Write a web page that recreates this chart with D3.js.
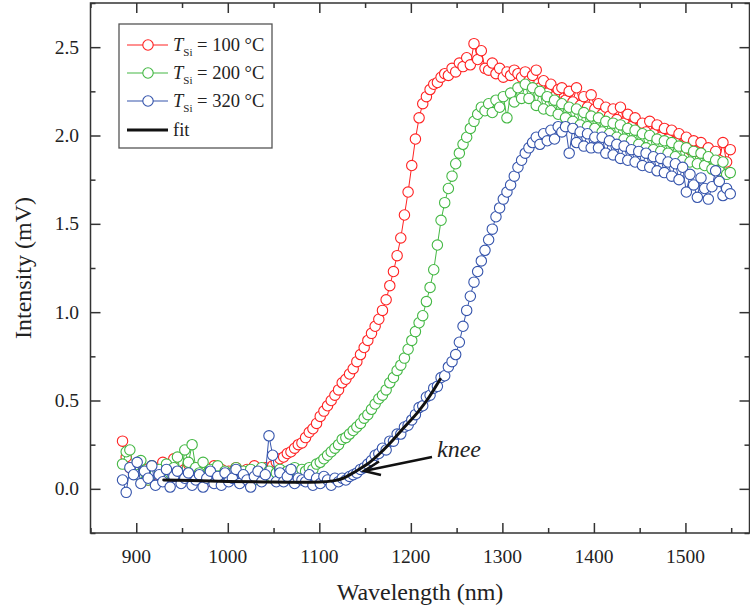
<!DOCTYPE html>
<html>
<head>
<meta charset="utf-8">
<script src="https://cdn.jsdelivr.net/npm/d3@7"></script>
</head>
<body style="margin:0">
<script>
// wavelength grid (nm)
var wavelength = [
  885, 889, 893, 897, 901, 905, 909, 913, 917, 921,
  925, 929, 933, 937, 941, 945, 949, 953, 957, 961,
  965, 969, 973, 977, 981, 985, 989, 993, 997, 1001,
  1005, 1009, 1013, 1017, 1021, 1025, 1029, 1033, 1037, 1041,
  1045, 1049, 1053, 1057, 1061, 1065, 1069, 1073, 1077, 1081,
  1085, 1089, 1093, 1097, 1101, 1105, 1109, 1113, 1117, 1121,
  1125, 1129, 1133, 1137, 1141, 1145, 1149, 1153, 1157, 1161,
  1165, 1169, 1173, 1177, 1181, 1185, 1189, 1193, 1197, 1201,
  1205, 1209, 1213, 1217, 1221, 1225, 1229, 1233, 1237, 1241,
  1245, 1249, 1253, 1257, 1261, 1265, 1269, 1273, 1277, 1281,
  1285, 1289, 1293, 1297, 1301, 1305, 1309, 1313, 1317, 1321,
  1325, 1329, 1333, 1337, 1341, 1345, 1349, 1353, 1357, 1361,
  1365, 1369, 1373, 1377, 1381, 1385, 1389, 1393, 1397, 1401,
  1405, 1409, 1413, 1417, 1421, 1425, 1429, 1433, 1437, 1441,
  1445, 1449, 1453, 1457, 1461, 1465, 1469, 1473, 1477, 1481,
  1485, 1489, 1493, 1497, 1501, 1505, 1509, 1513, 1517, 1521,
  1525, 1529, 1533, 1537, 1541, 1545, 1549
];

// intensity (mV), T_Si = 100 C
var t100 = [
  .27, .18, .12, .09, .14, .07, .11, .05, .13, .08,
  .10, .15, .06, .12, .17, .09, .05, .11, .14, .08,
  .12, .07, .10, .04, .09, .13, .06, .11, .08, .10,
  .07, .12, .09, .05, .11, .08, .13, .10, .06, .12,
  .10, .13, .15, .17, .18, .20, .21, .23, .25, .26,
  .29, .32, .34, .37, .41, .44, .47, .50, .53, .56,
  .60, .62, .65, .68, .72, .76, .80, .84, .88, .92,
  .96, 1.01, 1.07, 1.15, 1.23, 1.32, 1.42, 1.55, 1.68, 1.83,
  1.98, 2.10, 2.18, 2.22, 2.26, 2.29, 2.30, 2.33, 2.35, 2.34,
  2.38, 2.36, 2.41, 2.39, 2.44, 2.40, 2.52, 2.43, 2.48, 2.38,
  2.37, 2.41, 2.35, 2.38, 2.33, 2.36, 2.34, 2.37, 2.35, 2.33,
  2.36, 2.31, 2.34, 2.37, 2.27, 2.31, 2.24, 2.29, 2.22, 2.26,
  2.27, 2.20, 2.25, 2.19, 2.27, 2.17, 2.22, 2.16, 2.23, 2.15,
  2.18, 2.12, 2.16, 2.11, 2.15, 2.09, 2.16, 2.07, 2.12, 2.05,
  2.10, 2.03, 2.07, 2.02, 2.08, 2.01, 2.06, 1.99, 2.04, 1.98,
  2.03, 1.96, 2.01, 1.94, 1.99, 1.92, 1.97, 1.91, 1.96, 1.90,
  1.93, 1.88, 1.91, 1.86, 1.96, 1.85, 1.92
];

// intensity (mV), T_Si = 200 C
var t200 = [
  .14, .21, .22, .12, .08, .16, .10, .05, .13, .09,
  .11, .06, .14, .09, .12, .18, .07, .22, .15, .25,
  .12, .09, .15, .06, .11, .08, .13, .05, .10, .07,
  .09, .12, .06, .10, .08, .11, .05, .09, .12, .07,
  .10, .06, .09, .11, .07, .10, .08, .12, .09, .11,
  .10, .12, .11, .14, .15, .17, .19, .21, .23, .25,
  .28, .29, .31, .33, .35, .37, .40, .42, .45, .48,
  .51, .53, .56, .60, .63, .67, .70, .74, .79, .84,
  .89, .94, .98, 1.06, 1.14, 1.24, 1.38, 1.52, 1.62, 1.70,
  1.77, 1.84, 1.90, 1.95, 1.99, 2.04, 2.08, 2.12, 2.16, 2.14,
  2.18, 2.13, 2.20, 2.16, 2.22, 2.10, 2.24, 2.19, 2.27, 2.21,
  2.29, 2.21, 2.27, 2.17, 2.25, 2.15, 2.22, 2.14, 2.20, 2.12,
  2.18, 2.10, 2.16, 2.08, 2.15, 2.06, 2.13, 2.05, 2.11, 2.04,
  2.10, 2.02, 2.08, 2.01, 2.07, 1.99, 2.06, 1.98, 2.04, 1.97,
  2.03, 1.95, 2.01, 1.93, 2.00, 1.92, 1.98, 1.91, 1.97, 1.90,
  1.96, 1.88, 1.94, 1.86, 1.93, 1.85, 1.91, 1.84, 1.90, 1.83,
  1.88, 1.81, 1.86, 1.80, 1.85, 1.78, 1.79
];

// intensity (mV), T_Si = 320 C
var t320 = [
  .05, -.02, .12, .08, .15, .03, .10, .06, .13, .02,
  .08, .04, .11, .01, .07, .10, .03, .06, .09, .02,
  .05, .08, .01, .06, .10, .03, .07, .02, .09, .04,
  .06, .11, .03, .08, .05, .01, .07, .10, .04, .08,
  .30, .19, .04, .09, .04, .07, .11, .03, .06, .05,
  .04, .08, .02, .06, .03, .07, .05, .02, .06, .04,
  .06, .05, .07, .08, .09, .11, .12, .14, .16, .19,
  .20, .23, .22, .27, .27, .31, .31, .35, .36, .39,
  .42, .46, .47, .52, .53, .57, .58, .63, .64, .69,
  .72, .76, .83, .92, 1.01, 1.09, 1.17, 1.23, 1.29, 1.35,
  1.41, 1.47, 1.54, 1.59, 1.64, 1.68, 1.72, 1.77, 1.82, 1.86,
  1.90, 1.93, 1.96, 1.99, 1.95, 2.01, 1.97, 2.03, 1.98, 2.05,
  2.02, 2.05, 1.90, 2.04, 1.96, 2.02, 1.94, 2.01, 1.93, 1.99,
  1.93, 1.99, 1.90, 1.97, 1.89, 1.95, 1.87, 1.94, 1.86, 1.92,
  1.85, 1.91, 1.83, 1.90, 1.82, 1.88, 1.80, 1.87, 1.79, 1.85,
  1.77, 1.84, 1.75, 1.82, 1.68, 1.78, 1.72, 1.65, 1.76, 1.70,
  1.64, 1.71, 1.80, 1.74, 1.66, 1.70, 1.67
];

// fit curve through the knee of the 320 C series
var fitX = [930, 960, 1000, 1040, 1080, 1100, 1115, 1126, 1140, 1155, 1168, 1181, 1194, 1207, 1220, 1232];
var fitY = [0.05, 0.047, 0.042, 0.039, 0.037, 0.038, 0.045, 0.06, 0.10, 0.15, 0.21, 0.28, 0.355, 0.43, 0.52, 0.62];

var xTicks = [900, 1000, 1100, 1200, 1300, 1400, 1500];
var yTicks = [0.0, 0.5, 1.0, 1.5, 2.0, 2.5];

var series = [
  { temp: "100", values: t100, color: "#ff2222" },
  { temp: "200", values: t200, color: "#44b844" },
  { temp: "320", values: t320, color: "#3554ac" }
];

var width = 750, height = 609;

var svg = d3.select("body").append("svg")
    .attr("width", width)
    .attr("height", height);

var x = d3.scaleLinear().domain([850, 1570]).range([90.5, 749.5]);
var y = d3.scaleLinear().domain([-0.25, 2.75]).range([533, 3]);

var frameColor = "#333";
var textColor = "#222";

// every text goes through here so it gets the serif face
function label(sel, size) {
  return sel.append("text")
      .attr("fill", textColor)
      .attr("font-family", "Liberation Serif")
      .attr("font-size", size)
      .style("font-family", "'Liberation Serif'")
      .style("font-size", size + "px");
}

// ****************** data ***************************

var plot = svg.append("g");

series.forEach(function(s) {
  var pts = wavelength.map(function(w, i) { return [w, s.values[i]]; });

  plot.append("path")
      .datum(pts)
      .attr("fill", "none")
      .attr("stroke", s.color)
      .attr("stroke-width", 1)
      .attr("d", d3.line()
          .x(function(d) { return x(d[0]); })
          .y(function(d) { return y(d[1]); }));

  plot.selectAll(null)
      .data(pts)
    .enter().append("circle")
      .attr("cx", function(d) { return x(d[0]); })
      .attr("cy", function(d) { return y(d[1]); })
      .attr("r", 5.2)
      .attr("fill", "#fff")
      .attr("stroke", s.color)
      .attr("stroke-width", 1.1);
});

// fit line
var fitPts = fitX.map(function(w, i) { return [w, fitY[i]]; });
plot.append("path")
    .datum(fitPts)
    .attr("fill", "none")
    .attr("stroke", "#111")
    .attr("stroke-width", 3)
    .attr("stroke-linecap", "round")
    .attr("d", d3.line()
        .curve(d3.curveMonotoneX)
        .x(function(d) { return x(d[0]); })
        .y(function(d) { return y(d[1]); }));

// ****************** axes ***************************

var x0 = x.range()[0], x1 = x.range()[1];
var y0 = y.range()[0], y1 = y.range()[1];

var xMinor = [850, 950, 1050, 1150, 1250, 1350, 1450, 1550];
var yMinor = [-0.25, 0.25, 0.75, 1.25, 1.75, 2.25, 2.75];

// bottom + top, ticks point inward
svg.append("g")
    .attr("transform", "translate(0," + y0 + ")")
    .call(d3.axisTop(x).tickValues(xTicks).tickSize(10).tickFormat(""));
svg.append("g")
    .attr("transform", "translate(0," + y0 + ")")
    .call(d3.axisTop(x).tickValues(xMinor).tickSize(5).tickFormat(""));
svg.append("g")
    .attr("transform", "translate(0," + y1 + ")")
    .call(d3.axisBottom(x).tickValues(xTicks).tickSize(10).tickFormat(""));
svg.append("g")
    .attr("transform", "translate(0," + y1 + ")")
    .call(d3.axisBottom(x).tickValues(xMinor).tickSize(5).tickFormat(""));

// left + right
svg.append("g")
    .attr("transform", "translate(" + x0 + ",0)")
    .call(d3.axisRight(y).tickValues(yTicks).tickSize(10).tickFormat(""));
svg.append("g")
    .attr("transform", "translate(" + x0 + ",0)")
    .call(d3.axisRight(y).tickValues(yMinor).tickSize(5).tickFormat(""));
svg.append("g")
    .attr("transform", "translate(" + x1 + ",0)")
    .call(d3.axisLeft(y).tickValues(yTicks).tickSize(10).tickFormat(""));
svg.append("g")
    .attr("transform", "translate(" + x1 + ",0)")
    .call(d3.axisLeft(y).tickValues(yMinor).tickSize(5).tickFormat(""));

// the empty tick texts are not needed
svg.selectAll(".domain").remove();
svg.selectAll(".tick text").remove();
svg.selectAll(".tick line").attr("stroke", frameColor).attr("stroke-width", 1.5);

// frame
svg.append("rect")
    .attr("x", x0).attr("y", y1)
    .attr("width", x1 - x0).attr("height", y0 - y1)
    .attr("fill", "none")
    .attr("stroke", frameColor)
    .attr("stroke-width", 1.5);

// tick labels
xTicks.forEach(function(d) {
  label(svg, 19.5)
      .attr("x", x(d))
      .attr("y", 563)
      .attr("text-anchor", "middle")
      .text(d);
});

yTicks.forEach(function(d) {
  label(svg, 19.5)
      .attr("x", 79)
      .attr("y", y(d) + 6.5)
      .attr("text-anchor", "end")
      .text(d.toFixed(1));
});

// axis titles
label(svg, 24)
    .attr("x", (x0 + x1) / 2)
    .attr("y", 600)
    .attr("text-anchor", "middle")
    .text("Wavelength (nm)");

label(svg, 24)
    .attr("transform", "translate(31," + (y0 + y1) / 2 + ") rotate(-90)")
    .attr("text-anchor", "middle")
    .text("Intensity (mV)");

// ****************** annotation ***************************

label(svg, 24)
    .attr("x", 437)
    .attr("y", 457)
    .attr("font-style", "italic")
    .style("font-style", "italic")
    .text("knee");

var tip = [364, 471];
svg.append("path")
    .attr("d", "M432,457 L" + tip[0] + "," + tip[1])
    .attr("stroke", "#111").attr("stroke-width", 2.6).attr("fill", "none");
svg.append("path")
    .attr("d", "M" + (tip[0] + 15) + "," + (tip[1] - 9.5) + " L" + tip[0] + "," + tip[1] +
               " L" + (tip[0] + 17) + "," + (tip[1] + 4))
    .attr("stroke", "#111").attr("stroke-width", 2.6).attr("fill", "none")
    .attr("stroke-linejoin", "miter");

// ****************** legend ***************************

var legend = svg.append("g");
legend.append("rect")
    .attr("x", 119).attr("y", 24)
    .attr("width", 153).attr("height", 124)
    .attr("fill", "#fff")
    .attr("stroke", "#555")
    .attr("stroke-width", 1.3);

var rowY = [45, 73, 101, 130];

series.forEach(function(s, i) {
  var g = legend.append("g").attr("transform", "translate(0," + rowY[i] + ")");
  g.append("line")
      .attr("x1", 127).attr("x2", 168)
      .attr("stroke", s.color).attr("stroke-width", 1.2);
  g.append("circle")
      .attr("cx", 148).attr("r", 5.2)
      .attr("fill", "#fff").attr("stroke", s.color).attr("stroke-width", 1.1);
  var t = label(g, 18.5).attr("x", 173).attr("y", 6);
  t.append("tspan").attr("font-style", "italic").style("font-style", "italic").text("T");
  t.append("tspan").attr("dy", 5).attr("font-size", 11).style("font-size", "11px").text("Si");
  t.append("tspan").attr("dy", -5).text(" = " + s.temp + " \u00B0C");
});

var fitRow = legend.append("g").attr("transform", "translate(0," + rowY[3] + ")");
fitRow.append("line")
    .attr("x1", 127).attr("x2", 168)
    .attr("stroke", "#111").attr("stroke-width", 3);
label(fitRow, 18.5)
    .attr("x", 173).attr("y", 6)
    .text("fit");
</script>
</body>
</html>
